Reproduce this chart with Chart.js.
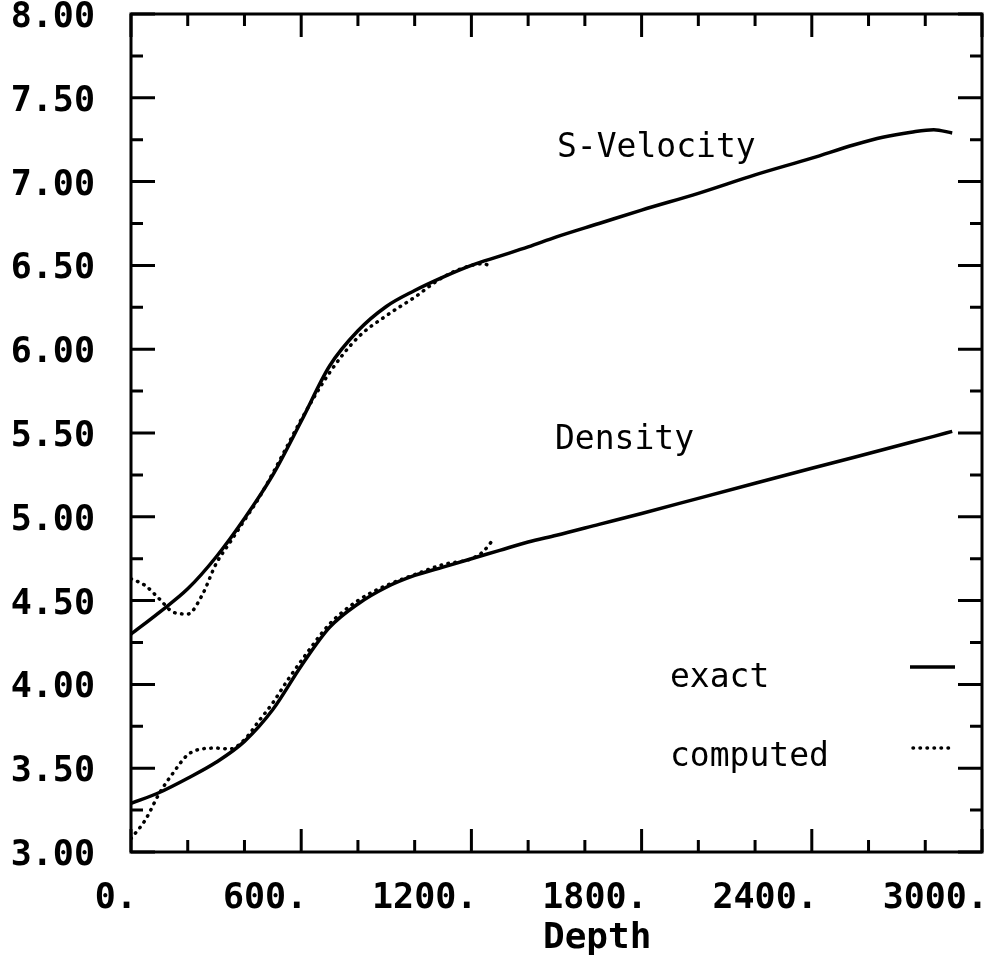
<!DOCTYPE html>
<html lang="en">
<head>
<meta charset="UTF-8" />
<title>S-Velocity and Density vs Depth</title>
<script src="https://cdn.jsdelivr.net/npm/chart.js@4"></script>
<style>
  html, body { margin: 0; padding: 0; background: #fff; }
  #wrap { width: 991px; height: 966px; }
</style>
</head>
<body>
<div id="wrap"><canvas id="depthChart" width="991" height="966"></canvas></div>
<script>
// exact model (solid lines)
const depthExact = [0, 100, 200, 300, 400, 500, 600, 700, 800, 900, 1000, 1100, 1200, 1300,
                    1400, 1500, 1650, 1800, 2000, 2200, 2400, 2550, 2650, 2750, 2830, 2895];
const sVelExact = [4.30, 4.43, 4.57, 4.76, 4.99, 5.25, 5.57, 5.90, 6.11, 6.255, 6.35, 6.43, 6.50, 6.555,
                   6.61, 6.67, 6.75, 6.83, 6.93, 7.04, 7.14, 7.22, 7.265, 7.295, 7.31, 7.29];
const densExact = [3.29, 3.355, 3.44, 3.535, 3.66, 3.85, 4.11, 4.34, 4.48, 4.58, 4.65, 4.70, 4.75, 4.80,
                   4.85, 4.89, 4.955, 5.02, 5.11, 5.20, 5.29, 5.355, 5.40, 5.445, 5.48, 5.51];

// computed model (dotted lines), only down to ~1275
const depthComp = [0, 50, 100, 150, 200, 250, 300, 350, 400, 450, 500, 550, 600, 700, 800, 900,
                   1000, 1100, 1200, 1240, 1275];
const sVelComp = [4.63, 4.59, 4.51, 4.43, 4.42, 4.53, 4.72, 4.85, 4.98, 5.11, 5.26, 5.42, 5.58, 5.86,
                  6.07, 6.20, 6.31, 6.43, 6.50, 6.51, 6.49];
const densComp = [3.08, 3.19, 3.35, 3.475, 3.58, 3.615, 3.62, 3.615, 3.67, 3.78, 3.89, 4.02, 4.14, 4.36,
                  4.50, 4.59, 4.655, 4.715, 4.75, 4.79, 4.86];

const xLabelStep = 600;   // labelled x ticks
const yLabelStep = 0.5;   // labelled y ticks

function toPoints(xs, ys) {
    return xs.map((x, i) => ({ x: x, y: ys[i] }));
}

const tickFont = { family: 'DejaVu Sans Mono', size: 35, weight: 'bold' };

// box, inward ticks, curve names, legend and axis title
const framePlugin = {
    id: 'frame',
    afterDraw(chart) {
        const { ctx, chartArea: a, scales: { x, y } } = chart;
        ctx.save();
        ctx.strokeStyle = '#000';
        ctx.fillStyle = '#000';
        ctx.lineWidth = 3;
        ctx.strokeRect(a.left, a.top, a.right - a.left, a.bottom - a.top);

        ctx.beginPath();
        x.ticks.forEach(t => {
            const px = x.getPixelForValue(t.value);
            const len = t.value % xLabelStep === 0 ? 23 : 12;
            ctx.moveTo(px, a.bottom); ctx.lineTo(px, a.bottom - len);
            ctx.moveTo(px, a.top); ctx.lineTo(px, a.top + len);
        });
        y.ticks.forEach(t => {
            const py = y.getPixelForValue(t.value);
            const len = t.value % yLabelStep === 0 ? 24 : 12;
            ctx.moveTo(a.left, py); ctx.lineTo(a.left + len, py);
            ctx.moveTo(a.right, py); ctx.lineTo(a.right - len, py);
        });
        ctx.stroke();

        ctx.font = '33px "DejaVu Sans Mono"';
        ctx.textAlign = 'left';
        ctx.textBaseline = 'alphabetic';
        ctx.fillText('S-Velocity', a.left + 426, a.top + 143);
        ctx.fillText('Density', a.left + 424, a.top + 435);
        ctx.fillText('exact', a.left + 539, a.top + 673);
        ctx.fillText('computed', a.left + 539, a.top + 752);

        // legend samples
        ctx.lineWidth = 3.5;
        ctx.beginPath();
        ctx.moveTo(a.left + 779, a.top + 653);
        ctx.lineTo(a.left + 824, a.top + 653);
        ctx.stroke();
        ctx.setLineDash([0.5, 6.5]);
        ctx.lineCap = 'round';
        ctx.beginPath();
        ctx.moveTo(a.left + 782, a.top + 734);
        ctx.lineTo(a.left + 820, a.top + 734);
        ctx.stroke();
        ctx.setLineDash([]);

        ctx.font = 'bold 36px "DejaVu Sans Mono"';
        ctx.fillText('Depth', a.left + 412, a.bottom + 96);
        ctx.restore();
    }
};

const solid = {
    borderColor: '#000',
    borderWidth: 3.5,
    pointRadius: 0,
    fill: false,
    cubicInterpolationMode: 'monotone'
};
const dotted = Object.assign({}, solid, {
    borderWidth: 3.5,
    borderDash: [0.5, 6.5],
    borderCapStyle: 'round'
});

const ctx = document.getElementById('depthChart').getContext('2d');
new Chart(ctx, {
    type: 'line',
    data: {
        datasets: [
            Object.assign({ label: 'S-Velocity exact', data: toPoints(depthExact, sVelExact) }, solid),
            Object.assign({ label: 'Density exact', data: toPoints(depthExact, densExact) }, solid),
            Object.assign({ label: 'S-Velocity computed', data: toPoints(depthComp, sVelComp) }, dotted),
            Object.assign({ label: 'Density computed', data: toPoints(depthComp, densComp) }, dotted)
        ]
    },
    options: {
        responsive: false,
        animation: false,
        devicePixelRatio: 1,
        layout: { padding: { top: 14, right: 9, left: 0, bottom: 0 } },
        plugins: {
            legend: { display: false },
            tooltip: { enabled: false }
        },
        scales: {
            x: {
                type: 'linear',
                min: 0,
                max: 3000,
                grid: { display: false, drawTicks: false },
                border: { display: false },
                ticks: {
                    stepSize: 200,
                    autoSkip: false,
                    maxRotation: 0,
                    align: 'end',
                    labelOffset: 6,
                    padding: 26,
                    color: '#000',
                    font: tickFont,
                    callback: v => v % xLabelStep === 0 ? v + '.' : ''
                },
                afterFit: s => {
                    s.height = 114;
                    s.paddingLeft = 0;
                    s.paddingRight = 0;
                }
            },
            y: {
                type: 'linear',
                min: 3,
                max: 8,
                grid: { display: false, drawTicks: false },
                border: { display: false },
                ticks: {
                    stepSize: 0.25,
                    autoSkip: false,
                    labelOffset: 4,
                    padding: 36,
                    color: '#000',
                    font: tickFont,
                    callback: v => v % yLabelStep === 0 ? v.toFixed(2) : ''
                },
                afterFit: s => {
                    s.width = 131;
                    s.paddingTop = 0;
                    s.paddingBottom = 0;
                }
            }
        }
    },
    plugins: [framePlugin]
});
</script>
</body>
</html>
